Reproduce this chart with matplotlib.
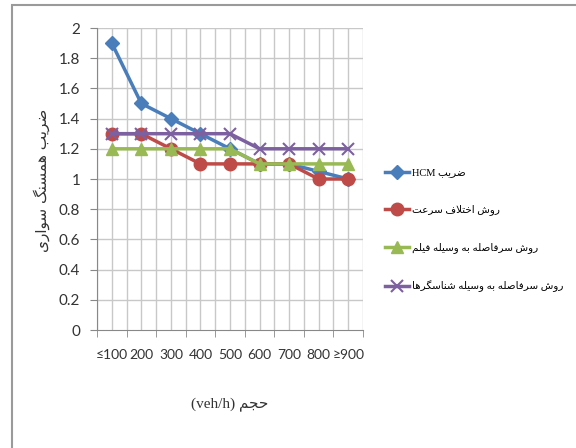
import matplotlib
matplotlib.use('Agg')
import matplotlib.pyplot as plt
from matplotlib.patches import Rectangle

# data
volume = ['≤100', '200', '300', '400', '500', '600', '700', '800', '≥900']
hcm = [1.9, 1.5, 1.4, 1.3, 1.2, 1.1, 1.1, 1.05, 1.0]
speed_diff = [1.3, 1.3, 1.2, 1.1, 1.1, 1.1, 1.1, 1.0, 1.0]
headway_film = [1.2, 1.2, 1.2, 1.2, 1.2, 1.1, 1.1, 1.1, 1.1]
headway_detector = [1.3, 1.3, 1.3, 1.3, 1.3, 1.2, 1.2, 1.2, 1.2]

labels_fa = ['ضریب', 'روش اختلاف سرعت', 'روش سرفاصله به وسیله فیلم',
             'روش سرفاصله به وسیله شناسگرها']
ylabel_fa = 'ضریب همسنگ سواری'
xlabel_fa = 'حجم'

# minimal Persian shaping (matplotlib has no complex text layout)
FORMS = {
    'ا': (0xFE8D, 0xFE8E, None, None), 'ب': (0xFE8F, 0xFE90, 0xFE91, 0xFE92),
    'ت': (0xFE95, 0xFE96, 0xFE97, 0xFE98), 'ج': (0xFE9D, 0xFE9E, 0xFE9F, 0xFEA0),
    'ح': (0xFEA1, 0xFEA2, 0xFEA3, 0xFEA4), 'خ': (0xFEA5, 0xFEA6, 0xFEA7, 0xFEA8),
    'ر': (0xFEAD, 0xFEAE, None, None), 'س': (0xFEB1, 0xFEB2, 0xFEB3, 0xFEB4),
    'ش': (0xFEB5, 0xFEB6, 0xFEB7, 0xFEB8), 'ص': (0xFEB9, 0xFEBA, 0xFEBB, 0xFEBC),
    'ض': (0xFEBD, 0xFEBE, 0xFEBF, 0xFEC0), 'ع': (0xFEC9, 0xFECA, 0xFECB, 0xFECC),
    'ف': (0xFED1, 0xFED2, 0xFED3, 0xFED4), 'ل': (0xFEDD, 0xFEDE, 0xFEDF, 0xFEE0),
    'م': (0xFEE1, 0xFEE2, 0xFEE3, 0xFEE4), 'ن': (0xFEE5, 0xFEE6, 0xFEE7, 0xFEE8),
    'ه': (0xFEE9, 0xFEEA, 0xFEEB, 0xFEEC), 'و': (0xFEED, 0xFEEE, None, None),
    'ی': (0xFBFC, 0xFBFD, 0xFBFE, 0xFBFF), 'گ': (0xFB92, 0xFB93, 0xFB94, 0xFB95),
}


def dual(c):
    return c in FORMS and FORMS[c][2] is not None


def shape_word(word):
    out = []
    i = 0
    n = len(word)
    while i < n:
        c = word[i]
        prev = i > 0 and dual(word[i - 1])
        if c == 'ل' and i + 1 < n and word[i + 1] == 'ا':
            out.append(chr(0xFEFC if prev else 0xFEFB))
            i += 2
            continue
        nxt = dual(c) and i + 1 < n and word[i + 1] in FORMS
        iso, fin, ini, med = FORMS[c]
        if prev and nxt:
            f = med
        elif prev:
            f = fin
        elif nxt:
            f = ini
        else:
            f = iso
        out.append(chr(f))
        i += 1
    return ''.join(reversed(out))


def fa(text):
    return ' '.join(shape_word(w) for w in reversed(text.split()))


colors = ['#4a7ebb', '#be4b48', '#98b954', '#7d60a0']
series = [hcm, speed_diff, headway_film, headway_detector]
markers = [('D', 7), ('o', 9), ('^', 9), ('x', 9)]
legend_text = ['HCM ' + fa(labels_fa[0])] + [fa(t) for t in labels_fa[1:]]

fig = plt.figure(figsize=(5.76, 4.48), dpi=100)
fig.patches.append(Rectangle((12 / 576, -0.1), 1.2, 1 - 5 / 448 + 0.1,
                             transform=fig.transFigure, fill=False,
                             edgecolor='#9a9a9a', linewidth=1.5))
ax = fig.add_axes([97 / 576, 1 - 330 / 448, 266 / 576, 302 / 448])

x = list(range(len(volume)))
lines = []
for vals, col, (m, ms), lab in zip(series, colors, markers, legend_text):
    ln, = ax.plot(x, vals, color=col, linewidth=2.5, marker=m, markersize=ms,
                  markeredgewidth=1.5 if m == 'x' else 1, label=lab, zorder=3)
    lines.append(ln)

ax.set_xlim(-0.5, len(volume) - 0.5)
ax.set_ylim(0, 2)
ax.set_yticks([i * 0.2 for i in range(11)])
ax.set_yticklabels(['0', '0.2', '0.4', '0.6', '0.8', '1', '1.2', '1.4', '1.6', '1.8', '2'],
                   family=['Lato', 'DejaVu Sans'], fontsize=11, color='#333333')
ax.set_xticks(x)
ax.set_xticklabels(volume, family=['Lato', 'DejaVu Sans'], fontsize=10, color='#333333')
ax.set_xticks([i - 0.5 for i in range(len(volume) + 1)], minor=True)
ax.tick_params(axis='x', which='major', length=0, pad=14)
ax.tick_params(axis='x', which='minor', length=5, color='#888888')
ax.tick_params(axis='y', length=5, color='#888888', pad=7)

for v in [i * 0.5 - 0.5 for i in range(2 * len(volume) + 1)]:
    ax.axvline(v, color='#c8c8c8', linewidth=1, zorder=0)
for v in [i * 0.2 for i in range(1, 11)]:
    ax.axhline(v, color='#c8c8c8', linewidth=1, zorder=0)

for s in ['top', 'right']:
    ax.spines[s].set_visible(False)
ax.spines['left'].set_color('#888888')
ax.spines['bottom'].set_color('#888888')

fig.text(42 / 576, 1 - 180 / 448, fa(ylabel_fa), rotation=90, ha='center', va='center',
         family='DejaVu Sans', fontsize=11, color='#333333')
fig.text(230 / 576, 1 - 405 / 448, '(veh/h) ' + fa(xlabel_fa), ha='center', va='center',
         family=['Liberation Serif', 'DejaVu Sans'], fontsize=11, color='#333333')

fig.legend(handles=lines, labels=legend_text, loc='center left',
           bbox_to_anchor=(376 / 576, 1 - 230 / 448), frameon=False,
           prop={'family': ['Liberation Serif', 'DejaVu Sans'], 'size': 7.5},
           handlelength=2.3, handletextpad=0.3, labelspacing=2.6)

fig.savefig('out.png', dpi=100, facecolor='white')
